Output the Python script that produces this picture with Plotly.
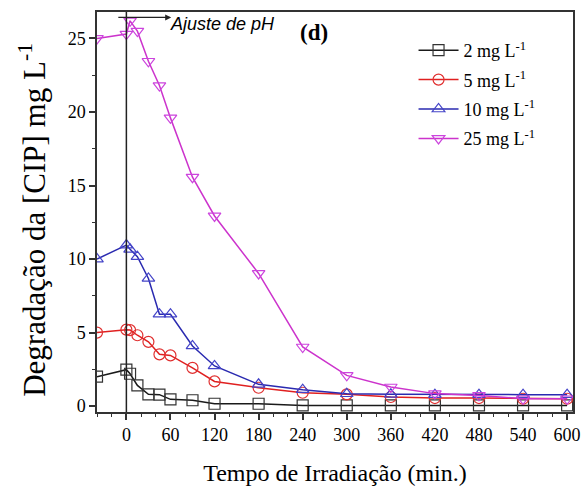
import plotly.graph_objects as go

time = [-40, 0, 5, 15, 30, 45, 60, 90, 120, 180, 240, 300, 360, 420, 480, 540, 600]
c2 = [2.0, 2.48, 2.2, 1.41, 0.8, 0.78, 0.46, 0.4, 0.16, 0.16, 0.05, 0.05, 0.05, 0.05, 0.05, 0.05, 0.05]
c5 = [5.0, 5.2, 5.17, 4.82, 4.37, 3.52, 3.45, 2.6, 1.68, 1.25, 0.91, 0.8, 0.62, 0.55, 0.55, 0.5, 0.5]
c10 = [10.0, 10.95, 10.66, 10.16, 8.68, 6.25, 6.25, 4.09, 2.73, 1.48, 1.12, 0.84, 0.8, 0.78, 0.78, 0.78, 0.78]
c25 = [25.0, 25.3, 26.2, 25.5, 23.45, 21.8, 19.6, 15.57, 12.93, 9.02, 4.02, 2.09, 1.3, 0.85, 0.73, 0.5, 0.5]

names = ["2 mg L<sup>-1</sup>", "5 mg L<sup>-1</sup>", "10 mg L<sup>-1</sup>", "25 mg L<sup>-1</sup>"]
series = [c2, c5, c10, c25]
line_colors = ["#1a1a1a", "#e02020", "#2a2ab0", "#cc33cc"]
marker_colors = ["#333333", "#e03030", "#4444c8", "#cc44dd"]
symbols = ["square-open", "circle-open", "triangle-up-open", "triangle-down-open"]

fig = go.Figure()
for i, (name, ys, lc, mc, sym) in enumerate(zip(names, series, line_colors, marker_colors, symbols)):
    fig.add_trace(go.Scatter(
        x=time, y=ys, name=name, mode="lines+markers", legendgroup=f"g{i}",
        line=dict(color=lc, width=1.5),
        marker=dict(symbol=sym, size=11, color=mc, line=dict(width=1.2, color=mc)),
    ))

serif = "Liberation Serif"

fig.update_layout(
    width=585, height=488,
    margin=dict(l=97, r=12, t=12, b=76),
    paper_bgcolor="white", plot_bgcolor="white",
    showlegend=True,
    legend=dict(x=0.665, y=0.95, xanchor="left", yanchor="top",
                font=dict(family=serif, size=18, color="black"),
                bgcolor="rgba(0,0,0,0)", tracegroupgap=3, itemwidth=40),
    xaxis=dict(
        range=[-40, 608], tickmode="array", automargin=False,
        tickvals=[0, 60, 120, 180, 240, 300, 360, 420, 480, 540, 600],
        ticks="outside", ticklen=6, tickwidth=1.5, tickcolor="#333",
        minor=dict(dtick=20, tick0=0, ticks="outside", ticklen=3.5, tickwidth=1.2, tickcolor="#333"),
        showline=True, linecolor="#333", linewidth=1.5, mirror=True,
        showgrid=False, zeroline=False,
        tickfont=dict(family=serif, size=18, color="black"),
        title=dict(text="Tempo de Irradiação (min.)", font=dict(family=serif, size=24, color="black"), standoff=20),
    ),
    yaxis=dict(
        range=[-0.4, 26.8], tickmode="array", tickvals=[0, 5, 10, 15, 20, 25], automargin=False,
        ticks="outside", ticklen=6, tickwidth=1.5, tickcolor="#333",
        minor=dict(dtick=2.5, tick0=0, ticks="outside", ticklen=3.5, tickwidth=1.2, tickcolor="#333"),
        showline=True, linecolor="#333", linewidth=1.5, mirror=True,
        showgrid=False, zeroline=False,
        tickfont=dict(family=serif, size=18, color="black"),
    ),
)

fig.add_annotation(x=-0.137, y=0.48, xref="paper", yref="paper",
                   text="Degradação da [CIP] mg L<sup>-1</sup>", textangle=-90, showarrow=False,
                   xanchor="center", yanchor="middle",
                   font=dict(family=serif, size=31, color="black"))

fig.add_shape(type="line", xref="x", yref="paper", x0=0, x1=0, y0=0, y1=1,
              line=dict(color="#222", width=1.5))

fig.add_annotation(x=61, y=26.43, ax=-13, ay=26.43, xref="x", yref="y", axref="x", ayref="y",
                   text="", showarrow=True, arrowhead=2, arrowsize=1, arrowwidth=1.2, arrowcolor="#222")
fig.add_annotation(x=57, y=26.0, xref="x", yref="y", text="<i>Ajuste de pH</i>", showarrow=False,
                   xanchor="left", yanchor="middle",
                   font=dict(family="Liberation Sans", size=18, color="black"))
fig.add_annotation(x=0.455, y=0.948, xref="paper", yref="paper", text="<b>(d)</b>", showarrow=False,
                   xanchor="center", yanchor="middle",
                   font=dict(family=serif, size=23, color="black"))

fig.write_html("out.html")
